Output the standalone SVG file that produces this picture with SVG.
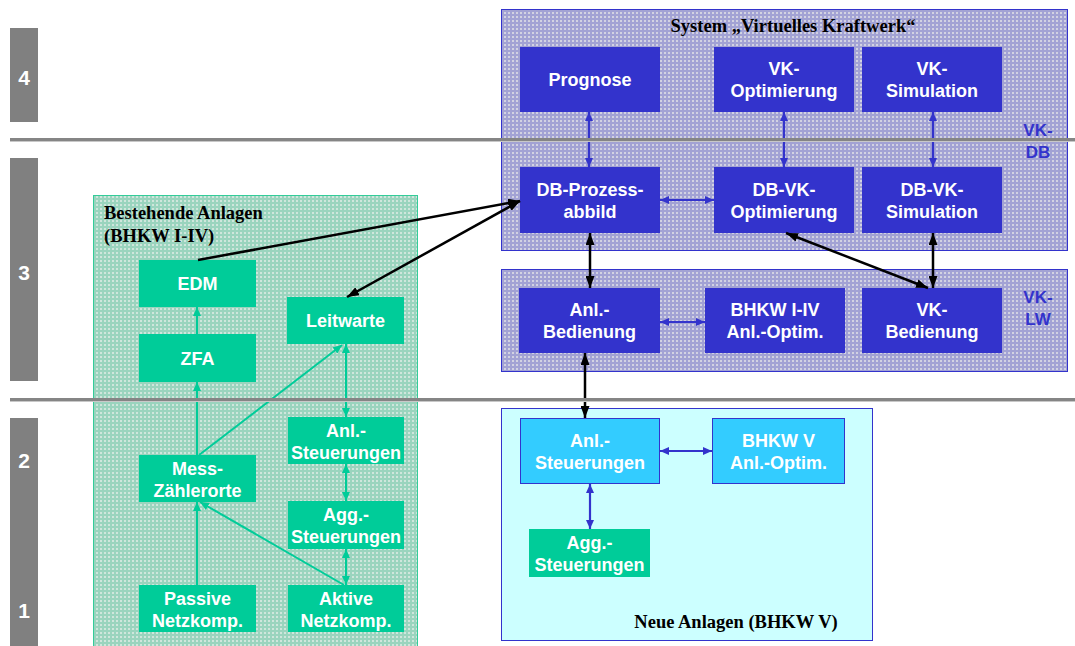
<svg xmlns="http://www.w3.org/2000/svg" width="1075" height="646" viewBox="0 0 1075 646">
<defs>
<style>
.lvl{fill:#808080}
.lvn{font-family:"Liberation Sans",Arial,sans-serif;font-weight:bold;font-size:21px;fill:#fff;text-anchor:middle}
.nt{font-family:"Liberation Sans",Arial,sans-serif;font-weight:bold;font-size:18px;fill:#fff;text-anchor:middle}
.pt{font-family:"Liberation Serif","Times New Roman",serif;font-weight:bold;font-size:18.5px;fill:#000}
.side{font-family:"Liberation Sans",Arial,sans-serif;font-weight:bold;font-size:17px;fill:#3333cc;text-anchor:middle}
.gn{fill:#00cc99}
.bn{fill:#3333cc}
.cn{fill:#33ccff;stroke:#3333cc;stroke-width:1}
.cg{stroke:#00cc99;stroke-width:2;fill:none}
.cb{stroke:#3333cc;stroke-width:2.2;fill:none}
.ck{stroke:#000;stroke-width:2.5;fill:none}
.sep{stroke:#858585;stroke-width:3}
.sep2{stroke:#c8c8c8;stroke-width:1}
</style>
<pattern id="pg" width="4" height="4" patternUnits="userSpaceOnUse"><rect width="4" height="4" fill="#9ad4be"/><rect width="2" height="2" fill="#cfe6dc"/></pattern>
<pattern id="pp" width="4" height="4" patternUnits="userSpaceOnUse"><rect width="4" height="4" fill="#a2a2d4"/><rect width="2" height="2" fill="#d2d2e2"/></pattern>
<marker id="mk" viewBox="0 0 12 9" refX="12" refY="4.5" markerWidth="12" markerHeight="9" markerUnits="userSpaceOnUse" orient="auto-start-reverse"><path d="M0,0 L12,4.5 L0,9 z" fill="#000"/></marker>
<marker id="mb" viewBox="0 0 9 8" refX="9" refY="4" markerWidth="9" markerHeight="8" markerUnits="userSpaceOnUse" orient="auto-start-reverse"><path d="M0,0 L9,4 L0,8 z" fill="#3333cc"/></marker>
<marker id="mg" viewBox="0 0 9 8" refX="9" refY="4" markerWidth="9" markerHeight="8" markerUnits="userSpaceOnUse" orient="auto-start-reverse"><path d="M0,0 L9,4 L0,8 z" fill="#00cc99"/></marker>
</defs>
<rect width="1075" height="646" fill="#fff"/>

<g id="levels">
<rect class="lvl" x="10" y="28" width="28" height="94"/>
<rect class="lvl" x="10" y="158" width="28" height="223"/>
<rect class="lvl" x="10" y="418" width="28" height="228"/>
<text class="lvn" x="24" y="85">4</text>
<text class="lvn" x="24" y="280">3</text>
<text class="lvn" x="24" y="468">2</text>
<text class="lvn" x="24" y="618">1</text>
</g>

<g id="panel-bestehend">
<rect x="93.5" y="195.5" width="324" height="452" fill="url(#pg)" stroke="#33cc99" stroke-width="1"/>
<text class="pt" x="104" y="219">Bestehende Anlagen</text>
<text class="pt" x="104" y="242">(BHKW I-IV)</text>
</g>

<g id="panel-vk-db">
<rect x="501.5" y="9.5" width="566" height="241" fill="url(#pp)" stroke="#3333cc" stroke-width="1"/>
<text class="pt" x="793" y="32" text-anchor="middle">System „Virtuelles Kraftwerk“</text>
<text class="side" x="1038" y="136">VK-</text>
<text class="side" x="1038" y="158">DB</text>
</g>

<g id="panel-vk-lw">
<rect x="501.5" y="269.5" width="566" height="102" fill="url(#pp)" stroke="#3333cc" stroke-width="1"/>
<text class="side" x="1038" y="303">VK-</text>
<text class="side" x="1038" y="325">LW</text>
</g>

<g id="panel-neu">
<rect x="501.5" y="408.5" width="371" height="232" fill="#ccffff" stroke="#3333cc" stroke-width="1"/>
<text class="pt" x="736" y="628" text-anchor="middle">Neue Anlagen (BHKW V)</text>
</g>

<g id="n-edm"><rect class="gn" x="139" y="260" width="117" height="47"/><text class="nt" x="197.5" y="290">EDM</text></g>
<g id="n-zfa"><rect class="gn" x="139" y="334" width="117" height="48"/><text class="nt" x="197.5" y="364.5">ZFA</text></g>
<g id="n-leitwarte"><rect class="gn" x="287" y="297" width="117" height="47"/><text class="nt" x="345.5" y="327">Leitwarte</text></g>
<g id="n-anl-steu-alt"><rect class="gn" x="288" y="417" width="116" height="47"/><text class="nt" x="346" y="436.5">Anl.-</text><text class="nt" x="346" y="458.5">Steuerungen</text></g>
<g id="n-mess"><rect class="gn" x="139" y="455" width="117" height="47"/><text class="nt" x="197.5" y="474.5">Mess-</text><text class="nt" x="197.5" y="496.5">Zählerorte</text></g>
<g id="n-agg-alt"><rect class="gn" x="288" y="501" width="116" height="48"/><text class="nt" x="346" y="521">Agg.-</text><text class="nt" x="346" y="543">Steuerungen</text></g>
<g id="n-passive"><rect class="gn" x="139" y="585" width="117" height="47"/><text class="nt" x="197.5" y="604.5">Passive</text><text class="nt" x="197.5" y="626.5">Netzkomp.</text></g>
<g id="n-aktive"><rect class="gn" x="288" y="585" width="116" height="47"/><text class="nt" x="346" y="604.5">Aktive</text><text class="nt" x="346" y="626.5">Netzkomp.</text></g>

<g id="n-prognose"><rect class="bn" x="520" y="47" width="140" height="65"/><text class="nt" x="590" y="86">Prognose</text></g>
<g id="n-vk-opt"><rect class="bn" x="714" y="47" width="140" height="65"/><text class="nt" x="784" y="75">VK-</text><text class="nt" x="784" y="97">Optimierung</text></g>
<g id="n-vk-sim"><rect class="bn" x="862" y="47" width="140" height="65"/><text class="nt" x="932" y="75">VK-</text><text class="nt" x="932" y="97">Simulation</text></g>
<g id="n-db-prozess"><rect class="bn" x="520" y="167" width="140" height="66"/><text class="nt" x="590" y="195.5">DB-Prozess-</text><text class="nt" x="590" y="217.5">abbild</text></g>
<g id="n-db-vk-opt"><rect class="bn" x="714" y="167" width="140" height="66"/><text class="nt" x="784" y="195.5">DB-VK-</text><text class="nt" x="784" y="217.5">Optimierung</text></g>
<g id="n-db-vk-sim"><rect class="bn" x="862" y="167" width="140" height="66"/><text class="nt" x="932" y="195.5">DB-VK-</text><text class="nt" x="932" y="217.5">Simulation</text></g>
<g id="n-anl-bed"><rect class="bn" x="519" y="288" width="141" height="65"/><text class="nt" x="589.5" y="316">Anl.-</text><text class="nt" x="589.5" y="338">Bedienung</text></g>
<g id="n-bhkw-iv"><rect class="bn" x="705" y="288" width="140" height="65"/><text class="nt" x="775" y="316">BHKW I-IV</text><text class="nt" x="775" y="338">Anl.-Optim.</text></g>
<g id="n-vk-bed"><rect class="bn" x="862" y="288" width="140" height="65"/><text class="nt" x="932" y="316">VK-</text><text class="nt" x="932" y="338">Bedienung</text></g>

<g id="n-anl-steu-neu"><rect class="cn" x="520.5" y="418.5" width="139" height="65"/><text class="nt" x="590" y="446.5">Anl.-</text><text class="nt" x="590" y="468.5">Steuerungen</text></g>
<g id="n-bhkw-v"><rect class="cn" x="712.5" y="418.5" width="132" height="65"/><text class="nt" x="778.5" y="446.5">BHKW V</text><text class="nt" x="778.5" y="468.5">Anl.-Optim.</text></g>
<g id="n-agg-neu"><rect class="gn" x="529" y="529" width="121" height="48"/><text class="nt" x="589.5" y="549">Agg.-</text><text class="nt" x="589.5" y="571">Steuerungen</text></g>

<g id="connectors">
<path class="cg" d="M197,334 L197,307" marker-end="url(#mg)"/>
<path class="cg" d="M197,455 L197,382" marker-end="url(#mg)"/>
<path class="cg" d="M197,585 L197,502" marker-end="url(#mg)"/>
<path class="cg" d="M199,455 L342,345" marker-end="url(#mg)"/>
<path class="cg" d="M346,344 L346,417" marker-start="url(#mg)" marker-end="url(#mg)"/>
<path class="cg" d="M346,464 L346,501" marker-start="url(#mg)" marker-end="url(#mg)"/>
<path class="cg" d="M346,549 L346,585" marker-start="url(#mg)" marker-end="url(#mg)"/>
<path class="cg" d="M344,585 L200,502" marker-end="url(#mg)"/>
<path class="ck" d="M198,260 L520,201" marker-end="url(#mk)"/>
<path class="ck" d="M347,297 L520,201" marker-start="url(#mk)" marker-end="url(#mk)"/>
<path class="ck" d="M590,233 L590,288" marker-start="url(#mk)" marker-end="url(#mk)"/>
<path class="ck" d="M786,233 L928,288" marker-start="url(#mk)" marker-end="url(#mk)"/>
<path class="ck" d="M933,233 L933,288" marker-start="url(#mk)" marker-end="url(#mk)"/>
<path class="ck" d="M585,353 L585,418" marker-start="url(#mk)" marker-end="url(#mk)"/>
<path class="cb" d="M589,112 L589,167" marker-start="url(#mb)" marker-end="url(#mb)"/>
<path class="cb" d="M784,112 L784,167" marker-start="url(#mb)" marker-end="url(#mb)"/>
<path class="cb" d="M933,112 L933,167" marker-start="url(#mb)" marker-end="url(#mb)"/>
<path class="cb" d="M660,200 L714,200" marker-start="url(#mb)" marker-end="url(#mb)"/>
<path class="cb" d="M660,322 L705,322" marker-start="url(#mb)" marker-end="url(#mb)"/>
<path class="cb" d="M660,451 L712,451" marker-start="url(#mb)" marker-end="url(#mb)"/>
<path class="cb" d="M590,484 L590,529" marker-start="url(#mb)" marker-end="url(#mb)"/>
</g>

<g id="separators">
<line class="sep" x1="10" y1="139.5" x2="1075" y2="139.5"/>
<line class="sep2" x1="10" y1="141.5" x2="1075" y2="141.5"/>
<line class="sep" x1="10" y1="399.5" x2="1075" y2="399.5"/>
<line class="sep2" x1="10" y1="401.5" x2="1075" y2="401.5"/>
</g>
</svg>
